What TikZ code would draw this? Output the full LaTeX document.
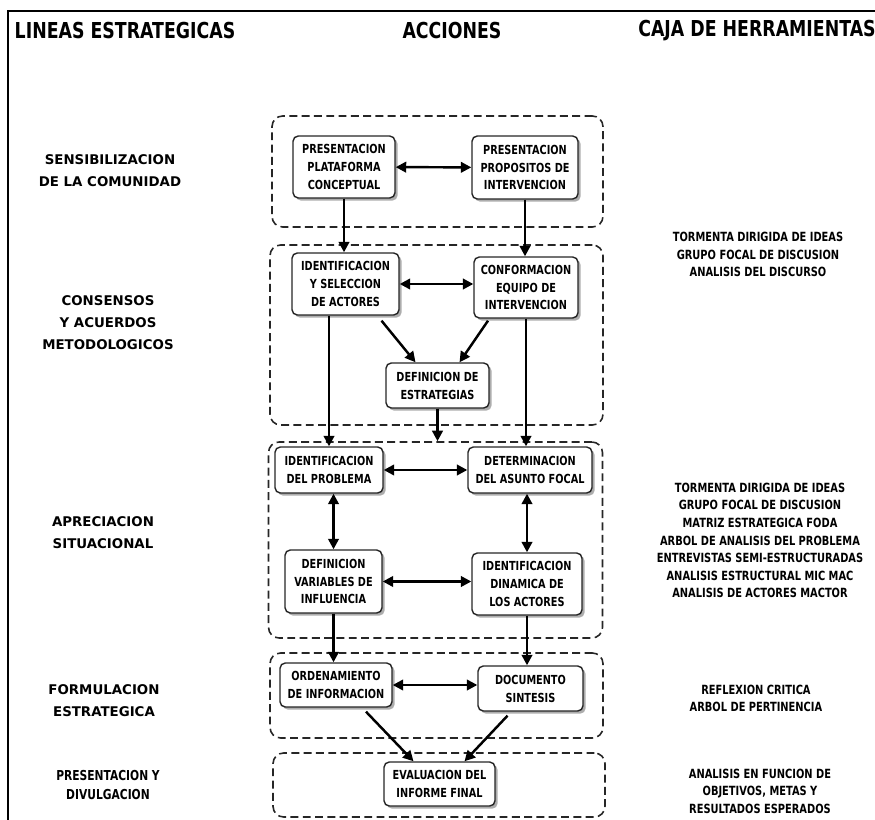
\documentclass[tikz,border=0pt]{standalone}
\usepackage{fontspec}
\setmainfont{DejaVu Sans}
\newfontfamily\boxfont[FakeStretch=0.78]{DejaVu Sans Bold}
\newfontfamily\headfont[FakeStretch=0.79]{DejaVu Sans Bold}
\usetikzlibrary{arrows.meta, positioning, calc, shadows}

\begin{document}
\begin{tikzpicture}[
  x=0.02cm, y=-0.02cm,
  head/.style={font=\headfont\fontsize{12.5}{14}\selectfont, inner sep=0},
  lab/.style={align=center, inner sep=0, font=\bfseries\fontsize{7.6}{12.5}\selectfont},
  tool/.style={align=center, inner sep=0, font=\boxfont\fontsize{7.2}{10}\selectfont},
  box/.style={draw=black!85, line width=0.8pt, fill=white, rounded corners=3pt, align=center, inner sep=0,
    font=\boxfont\fontsize{7.1}{10.2}\selectfont,
    drop shadow={shadow xshift=1.5pt, shadow yshift=-1.5pt, fill=black!40, opacity=0.8}},
  grp/.style={draw=black!85, line width=0.9pt, dash pattern=on 4.5pt off 2.5pt, rounded corners=6pt, inner sep=0},
  arr/.style={-{Triangle[length=6pt,width=6pt]}, line width=1.4pt},
  darr/.style={{Triangle[length=6pt,width=6pt]}-{Triangle[length=6pt,width=6pt]}, line width=1.4pt},
]
  \useasboundingbox (0,0) rectangle (875,820);
  \draw[line width=1.1pt] (875,11) -| (8,820);

  % column titles
  \node[head] (hlin) at (125,31) {LINEAS ESTRATEGICAS};
  \node[head] (hacc) at (452,31) {ACCIONES};
  \node[head] (hcaj) at (757,31) {CAJA DE HERRAMIENTAS};

  % strategic lines
  \node[lab] (l1) at (110,171) {SENSIBILIZACION\\DE LA COMUNIDAD};
  \node[lab] (l2) at (108,323) {CONSENSOS\\Y ACUERDOS\\METODOLOGICOS};
  \node[lab] (l3) at (103,533) {APRECIACION\\SITUACIONAL};
  \node[lab] (l4) at (104,701) {FORMULACION\\ESTRATEGICA};
  \node[lab, font=\boxfont\fontsize{7.8}{11}\selectfont] (l5) at (108,785) {PRESENTACION Y\\DIVULGACION};

  % groups
  \node[grp, minimum width=6.62cm, minimum height=2.22cm] (g1) at (437.5,171.5) {};
  \node[grp, minimum width=6.66cm, minimum height=3.60cm] (g2) at (436.5,335) {};
  \node[grp, minimum width=6.68cm, minimum height=3.92cm] (g3) at (435.5,540) {};
  \node[grp, minimum width=6.66cm, minimum height=1.70cm] (g4) at (436.5,695.5) {};
  \node[grp, minimum width=6.64cm, minimum height=1.28cm] (g5) at (439,785) {};

  % actions
  \node[box, minimum width=2.04cm, minimum height=1.24cm] (ppc) at (344,167) {PRESENTACION\\PLATAFORMA\\CONCEPTUAL};
  \node[box, minimum width=2.12cm, minimum height=1.26cm] (ppi) at (525,167.5) {PRESENTACION\\PROPOSITOS DE\\INTERVENCION};
  \node[box, minimum width=2.14cm, minimum height=1.24cm] (isa) at (345.5,284) {IDENTIFICACION\\Y SELECCION\\DE ACTORES};
  \node[box, minimum width=2.08cm, minimum height=1.22cm] (cei) at (526,287.5) {CONFORMACION\\EQUIPO DE\\INTERVENCION};
  \node[box, minimum width=2.06cm, minimum height=0.90cm] (dde) at (437.5,385.5) {DEFINICION DE\\ESTRATEGIAS};
  \node[box, minimum width=2.16cm, minimum height=0.92cm] (idp) at (329,470) {IDENTIFICACION\\DEL PROBLEMA};
  \node[box, minimum width=2.48cm, minimum height=0.92cm] (daf) at (530,470) {DETERMINACION\\DEL ASUNTO FOCAL};
  \node[box, minimum width=1.94cm, minimum height=1.26cm] (dvi) at (333.5,581.5) {DEFINICION\\VARIABLES DE\\INFLUENCIA};
  \node[box, minimum width=2.20cm, minimum height=1.24cm] (ida) at (527,584) {IDENTIFICACION\\DINAMICA DE\\LOS ACTORES};
  \node[box, minimum width=2.24cm, minimum height=0.88cm] (odi) at (336,685) {ORDENAMIENTO\\DE INFORMACION};
  \node[box, minimum width=2.10cm, minimum height=0.90cm] (dsi) at (530.5,688.5) {DOCUMENTO\\SINTESIS};
  \node[box, minimum width=2.22cm, minimum height=0.88cm] (eif) at (439.5,784) {EVALUACION DEL\\INFORME FINAL};

  % connectors
  \draw[darr] (ppc) -- (ppi);
  \draw[arr] (ppc.south) -- (ppc.south |- isa.north);
  \draw[arr] (ppi.south) -- (ppi.south |- cei.north);
  \draw[darr] (isa.east) -- (isa.east -| cei.west);
  \draw[arr] ($(isa.south)+(36,5)$) -- ($(dde.north)+(-22,0)$);
  \draw[arr] ($(cei.south)+(-38,2)$) -- ($(dde.north)+(22,0)$);
  \draw[arr] (isa.south -| idp.north) -- (idp.north);
  \draw[arr] (cei.south) -- (cei.south |- daf.north);
  \draw[arr] (dde.south) -- (dde.south |- g3.north);
  \draw[darr] (idp) -- (daf);
  \draw[darr] (dvi.north |- idp.south) -- (dvi.north);
  \draw[darr] (ida.north |- daf.south) -- (ida.north);
  \draw[darr] (dvi.east) -- (dvi.east -| ida.west);
  \draw[arr] (dvi.south) -- (dvi.south |- odi.north);
  \draw[arr] (ida.south) -- (ida.south |- dsi.north);
  \draw[darr] (odi.east) -- (odi.east -| dsi.west);
  \draw[arr] ($(odi.south)+(30,4)$) -- ($(eif.north)+(-26,0)$);
  \draw[arr] ($(dsi.south)+(-23,4)$) -- ($(eif.north)+(25,0)$);

  % toolbox
  \node[tool] (t1) at (758,254.5) {TORMENTA DIRIGIDA DE IDEAS\\GRUPO FOCAL DE DISCUSION\\ANALISIS DEL DISCURSO};
  \node[tool] (t2) at (760,540.5) {TORMENTA DIRIGIDA DE IDEAS\\GRUPO FOCAL DE DISCUSION\\MATRIZ ESTRATEGICA FODA\\ARBOL DE ANALISIS DEL PROBLEMA\\ENTREVISTAS SEMI-ESTRUCTURADAS\\ANALISIS ESTRUCTURAL MIC MAC\\ANALISIS DE ACTORES MACTOR};
  \node[tool] (t3) at (756,698.5) {REFLEXION CRITICA\\ARBOL DE PERTINENCIA};
  \node[tool] (t4) at (760,791) {ANALISIS EN FUNCION DE\\OBJETIVOS, METAS Y\\RESULTADOS ESPERADOS};
\end{tikzpicture}
\end{document}
